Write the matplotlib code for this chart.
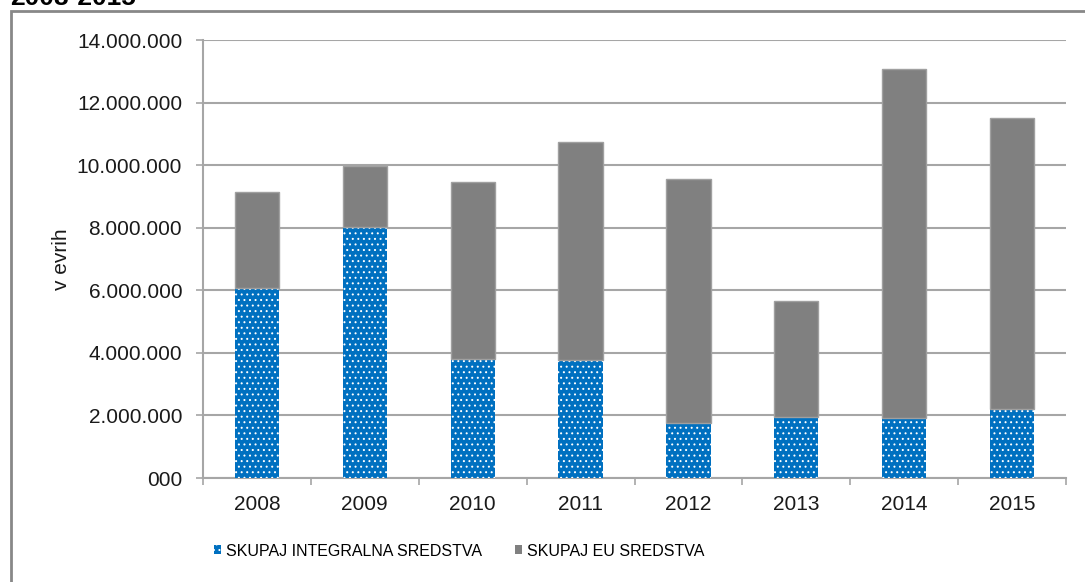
import numpy as np
import matplotlib.pyplot as plt
from matplotlib import font_manager
from matplotlib.patches import Patch, Rectangle
from matplotlib.ticker import FuncFormatter, FixedLocator

plt.rcParams["font.family"] = ["Liberation Sans", "DejaVu Sans"]
plt.rcParams["hatch.linewidth"] = 0.7

years = ["2008", "2009", "2010", "2011", "2012", "2013", "2014", "2015"]
integralna = [6070000, 8020000, 3800000, 3770000, 1760000, 1960000, 1930000, 2210000]
eu = [3070000, 1950000, 5670000, 6960000, 7790000, 3700000, 11140000, 9300000]

BLUE = "#0070c0"
GREY = "#808080"
GRID = "#a6a6a6"

W, H = 1085, 582
fig = plt.figure(figsize=(W / 100, H / 100), dpi=100)
ax = fig.add_axes([203 / W, (H - 478) / H, 863 / W, 438 / H])

x = np.arange(len(years))
width = 0.41

ax.bar(x, integralna, width, color=BLUE, edgecolor="white", linewidth=0,
       hatch="...", zorder=3)
ax.bar(x, eu, width, bottom=integralna, color=GREY, edgecolor="#a0a0a0",
       linewidth=1, zorder=3)

ax.set_xlim(-0.5, len(years) - 0.5)
ax.set_ylim(0, 14000000)
ax.set_yticks(np.arange(0, 14000001, 2000000))


def fmt(v, pos):
    if v == 0:
        return "000"
    return f"{v:,.0f}".replace(",", ".")


ax.yaxis.set_major_formatter(FuncFormatter(fmt))
ax.yaxis.grid(True, color=GRID, linewidth=1.5, zorder=0)
ax.set_axisbelow(True)

# category boundaries get the tick marks, labels sit in the middle
ax.xaxis.set_major_locator(FixedLocator(np.arange(-0.5, len(years), 1.0)))
ax.xaxis.set_major_formatter(FuncFormatter(lambda v, p: ""))
ax.xaxis.set_minor_locator(FixedLocator(x))
ax.set_xticklabels(years, minor=True)
ax.tick_params(axis="x", which="major", length=5, width=1.2, color=GRID)
ax.tick_params(axis="x", which="minor", length=0, pad=12, labelsize=15,
               labelcolor="#1a1a1a")
ax.tick_params(axis="y", length=5, width=1.2, color=GRID, pad=10,
               labelsize=15, labelcolor="#1a1a1a")

for s in ["top", "right"]:
    ax.spines[s].set_visible(False)
for s in ["left", "bottom"]:
    ax.spines[s].set_color(GRID)
    ax.spines[s].set_linewidth(1.5)

ax.set_ylabel("v evrih", fontsize=15, color="#1a1a1a", labelpad=4)

# legend text in the reference is a narrow face
names = {f.name for f in font_manager.fontManager.ttflist}
if "Liberation Sans Narrow" in names:
    leg_font = {"family": "Liberation Sans Narrow", "size": 14}
else:
    leg_font = {"family": "Liberation Sans", "size": 11.5}

handles = [
    Patch(facecolor=BLUE, edgecolor="white", linewidth=0, hatch="..."),
    Patch(facecolor=GREY, edgecolor="none"),
]
fig.legend(handles, ["SKUPAJ INTEGRALNA SREDSTVA", "SKUPAJ EU SREDSTVA"],
           loc="center", bbox_to_anchor=(459 / W, (H - 551) / H), ncol=2,
           frameon=False, prop=leg_font, handlelength=0.45, handleheight=0.5,
           handletextpad=0.3, columnspacing=2.1)

# outer chart frame, partly cut by the image edge
fig.add_artist(Rectangle((11 / W, -0.1), 1.2, (H - 11) / H + 0.1,
                         transform=fig.transFigure, fill=False,
                         edgecolor="#888888", linewidth=2))

fig.text(10 / W, (H - 5) / H, "2008-2015", fontsize=19, fontweight="bold",
         va="baseline", ha="left")

fig.savefig("out.png", dpi=100)
